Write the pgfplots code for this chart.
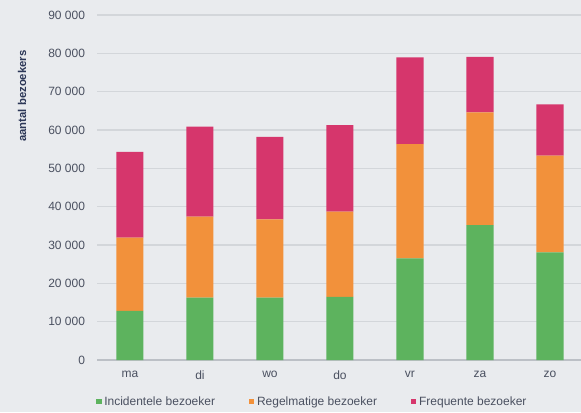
\documentclass[border=0pt]{standalone}
\usepackage{fontspec}
\setmainfont{Liberation Sans}
\usepackage{pgfplots}
\pgfplotsset{compat=1.18}

\definecolor{bgc}{HTML}{E9EBEE}
\definecolor{gridc}{HTML}{D3D6DA}
\definecolor{zeroc}{HTML}{BCC0C6}
\definecolor{txtc}{HTML}{4A5060}
\definecolor{labc}{HTML}{2C3757}
\definecolor{incid}{HTML}{5DB35E}
\definecolor{regel}{HTML}{F2913B}
\definecolor{freq}{HTML}{D6366C}

\begin{document}
\begin{tikzpicture}
% picture is 581 x 412 px, 1 px = 0.75pt
\useasboundingbox (0,0) rectangle (435.75pt,309pt);
\fill[bgc] (0,0) rectangle (435.75pt,309pt);
\begin{axis}[
    at={(72.75pt,39pt)}, anchor=south west,
    scale only axis,
    width=363pt, height=258.75pt,
    ybar stacked,
    bar width=0.386,
    xmin=-0.471, xmax=6.443,
    ymin=0, ymax=90000,
    xtick={0,...,6},
    xticklabels={ma,di,wo,do,vr,za,zo},
    ytick={0,10000,...,90000},
    scaled y ticks=false,
    /pgf/number format/fixed,
    /pgf/number format/precision=0,
    /pgf/number format/1000 sep={\ },
    /pgf/number format/assume math mode=true,
    major tick length=0pt,
    axis line style={draw=none},
    ymajorgrids,
    grid style={gridc, line width=0.9pt},
    extra y ticks={0},
    extra y tick labels={},
    extra y tick style={grid style={zeroc, line width=1pt}},
    tick label style={txtc, font=\fontsize{9}{10}\selectfont},
    yticklabel style={xshift=-5.5pt},
    xticklabel style={yshift=-4.5pt},
    ylabel={aantal bezoekers},
    ylabel style={at={(axis description cs:-0.155,0.765)}, anchor=center, labc, font=\bfseries\fontsize{8.5}{10}\selectfont},
    legend columns=-1,
    legend style={at={(-0.002,-0.121)}, anchor=west, draw=none, fill=none, inner sep=0pt,
        font=\fontsize{9}{10}\selectfont, text=txtc,
        /tikz/every even column/.append style={column sep=23.5pt}},
    legend image code/.code={\fill[#1] (0pt,-2pt) rectangle (4pt,2pt);},
    legend cell align=left,
]
\addplot[fill=incid, draw=none] coordinates {(0,12800) (1,16250) (2,16250) (3,16500) (4,26500) (5,35200) (6,28100)};
\addplot[fill=regel, draw=none] coordinates {(0,19100) (1,21150) (2,20450) (3,22200) (4,29850) (5,29400) (6,25200)};
\addplot[fill=freq, draw=none] coordinates {(0,22400) (1,23500) (2,21500) (3,22600) (4,22600) (5,14500) (6,13400)};
\legend{Incidentele bezoeker, Regelmatige bezoeker, Frequente bezoeker}
\end{axis}
\end{tikzpicture}
\end{document}
